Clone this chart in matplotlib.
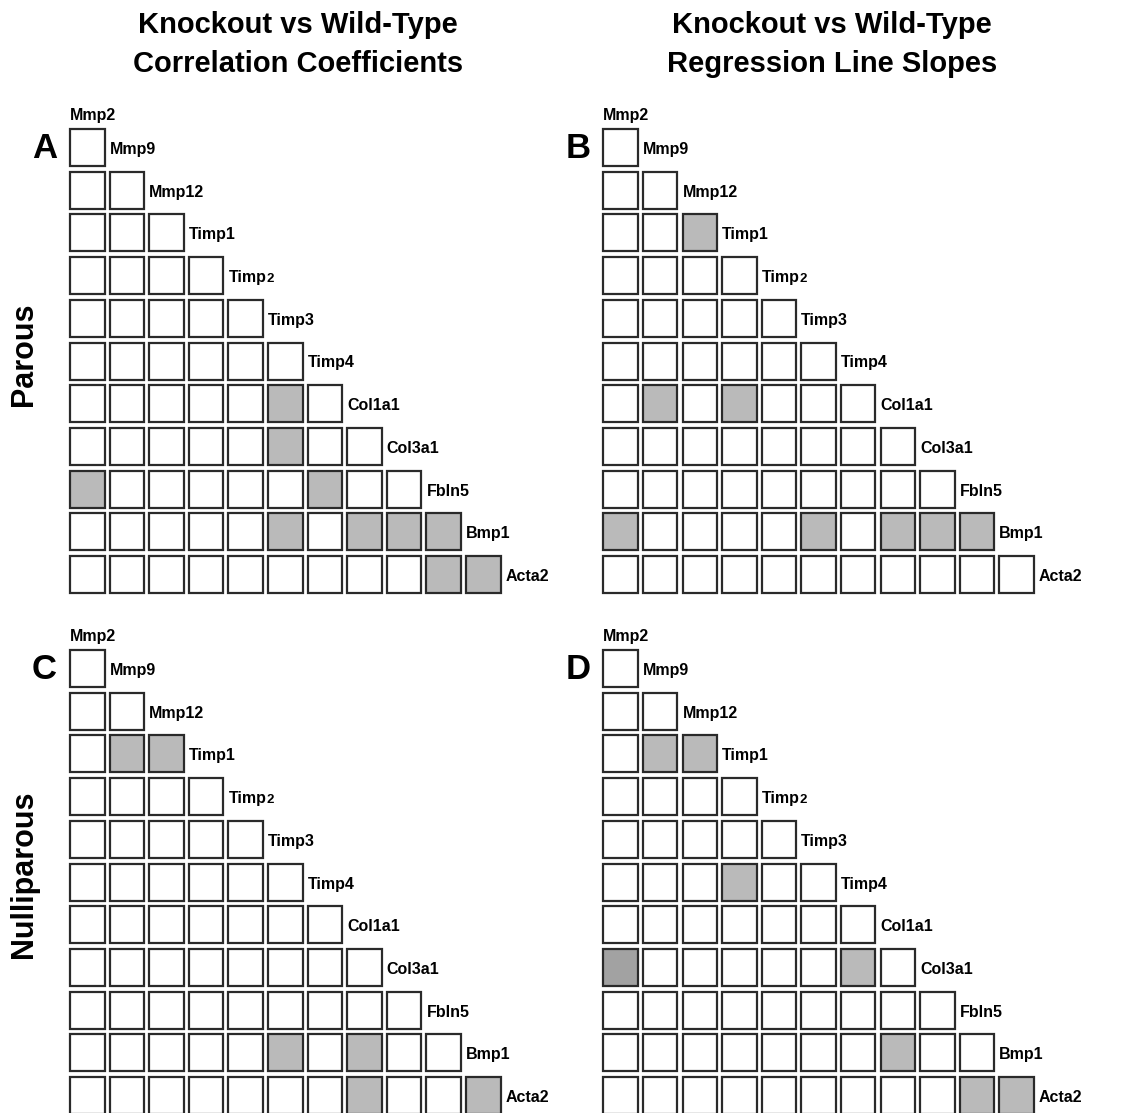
import matplotlib.pyplot as plt
from matplotlib.patches import Rectangle

plt.rcParams['font.family'] = ['Liberation Sans', 'DejaVu Sans']

# Data
genes = ['Mmp2', 'Mmp9', 'Mmp12', 'Timp1', 'Timp2', 'Timp3', 'Timp4',
         'Col1a1', 'Col3a1', 'Fbln5', 'Bmp1', 'Acta2']

# shaded cells: (row gene, column gene, shade level)
parous_corr = [('Col1a1', 'Timp3', 1), ('Col3a1', 'Timp3', 1),
               ('Fbln5', 'Mmp2', 1), ('Fbln5', 'Timp4', 1),
               ('Bmp1', 'Timp3', 1), ('Bmp1', 'Col1a1', 1), ('Bmp1', 'Col3a1', 1),
               ('Bmp1', 'Fbln5', 1), ('Acta2', 'Fbln5', 1), ('Acta2', 'Bmp1', 1)]
parous_slope = [('Timp1', 'Mmp12', 1), ('Col1a1', 'Mmp9', 1), ('Col1a1', 'Timp1', 1),
                ('Bmp1', 'Mmp2', 1), ('Bmp1', 'Timp3', 1), ('Bmp1', 'Col1a1', 1),
                ('Bmp1', 'Col3a1', 1), ('Bmp1', 'Fbln5', 1)]
nullip_corr = [('Timp1', 'Mmp9', 1), ('Timp1', 'Mmp12', 1),
               ('Bmp1', 'Timp3', 1), ('Bmp1', 'Col1a1', 1),
               ('Acta2', 'Col1a1', 1), ('Acta2', 'Bmp1', 1)]
nullip_slope = [('Timp1', 'Mmp9', 1), ('Timp1', 'Mmp12', 1), ('Timp4', 'Timp1', 1),
                ('Col3a1', 'Mmp2', 2), ('Col3a1', 'Timp4', 1), ('Bmp1', 'Col1a1', 1),
                ('Acta2', 'Fbln5', 1), ('Acta2', 'Bmp1', 1)]

col_titles = ['Knockout vs Wild-Type\nCorrelation Coefficients',
              'Knockout vs Wild-Type\nRegression Line Slopes']
row_titles = ['Parous', 'Nulliparous']
panel_letters = ['A', 'B', 'C', 'D']

shade_colors = {0: 'white', 1: '#bababa', 2: '#a2a2a2'}

# layout (pixels)
W, H = 1126, 1113
box_w, box_h = 34.5, 37
step_x, step_y = 39.6, 42.7
panel_x = [70, 603.3]
panel_y = [129, 650]

fig = plt.figure(figsize=(W / 100, H / 100), dpi=100)
ax = fig.add_axes([0, 0, 1, 1])
ax.set_xlim(0, W)
ax.set_ylim(H, 0)
ax.axis('off')


def draw_panel(x0, y0, shaded, letter):
    levels = {(genes.index(r), genes.index(c)): lv for r, c, lv in shaded}
    for r in range(1, len(genes)):
        for c in range(r):
            lv = levels.get((r, c), 0)
            ax.add_patch(Rectangle((x0 + c * step_x, y0 + (r - 1) * step_y), box_w, box_h,
                                   facecolor=shade_colors[lv], edgecolor='#2a2a2a', lw=1.6))
    # gene labels on the diagonal
    for j, g in enumerate(genes):
        lx = x0 + j * step_x
        ly = y0 + (j - 1) * step_y + box_h - 12
        if j == 0:
            ly = y0 - 9
        if g == 'Timp2':
            t = ax.text(lx, ly, 'Timp', fontsize=11.5, fontweight='bold', va='baseline', ha='left')
            ax.annotate('2', xy=(1, ly), xycoords=(t, 'data'), fontsize=9.5,
                        fontweight='bold', va='baseline', ha='left')
        else:
            ax.text(lx, ly, g, fontsize=11.5, fontweight='bold', va='baseline', ha='left')
    ax.text(x0 - 38, y0 + 29, letter, fontsize=25, fontweight='bold', va='baseline', ha='left')


draw_panel(panel_x[0], panel_y[0], parous_corr, panel_letters[0])
draw_panel(panel_x[1], panel_y[0], parous_slope, panel_letters[1])
draw_panel(panel_x[0], panel_y[1], nullip_corr, panel_letters[2])
draw_panel(panel_x[1], panel_y[1], nullip_slope, panel_letters[3])

# column titles
for cx, title in zip([298, 832], col_titles):
    line1, line2 = title.split('\n')
    ax.text(cx, 33, line1, fontsize=21, fontweight='bold', ha='center', va='baseline')
    ax.text(cx, 72, line2, fontsize=21, fontweight='bold', ha='center', va='baseline')

# row titles
ax.text(24, 354, row_titles[0], fontsize=22, fontweight='bold', rotation=90,
        ha='center', va='center')
ax.text(24, 874, row_titles[1], fontsize=22, fontweight='bold', rotation=90,
        ha='center', va='center')

fig.savefig('out.png', dpi=100, facecolor='white')
